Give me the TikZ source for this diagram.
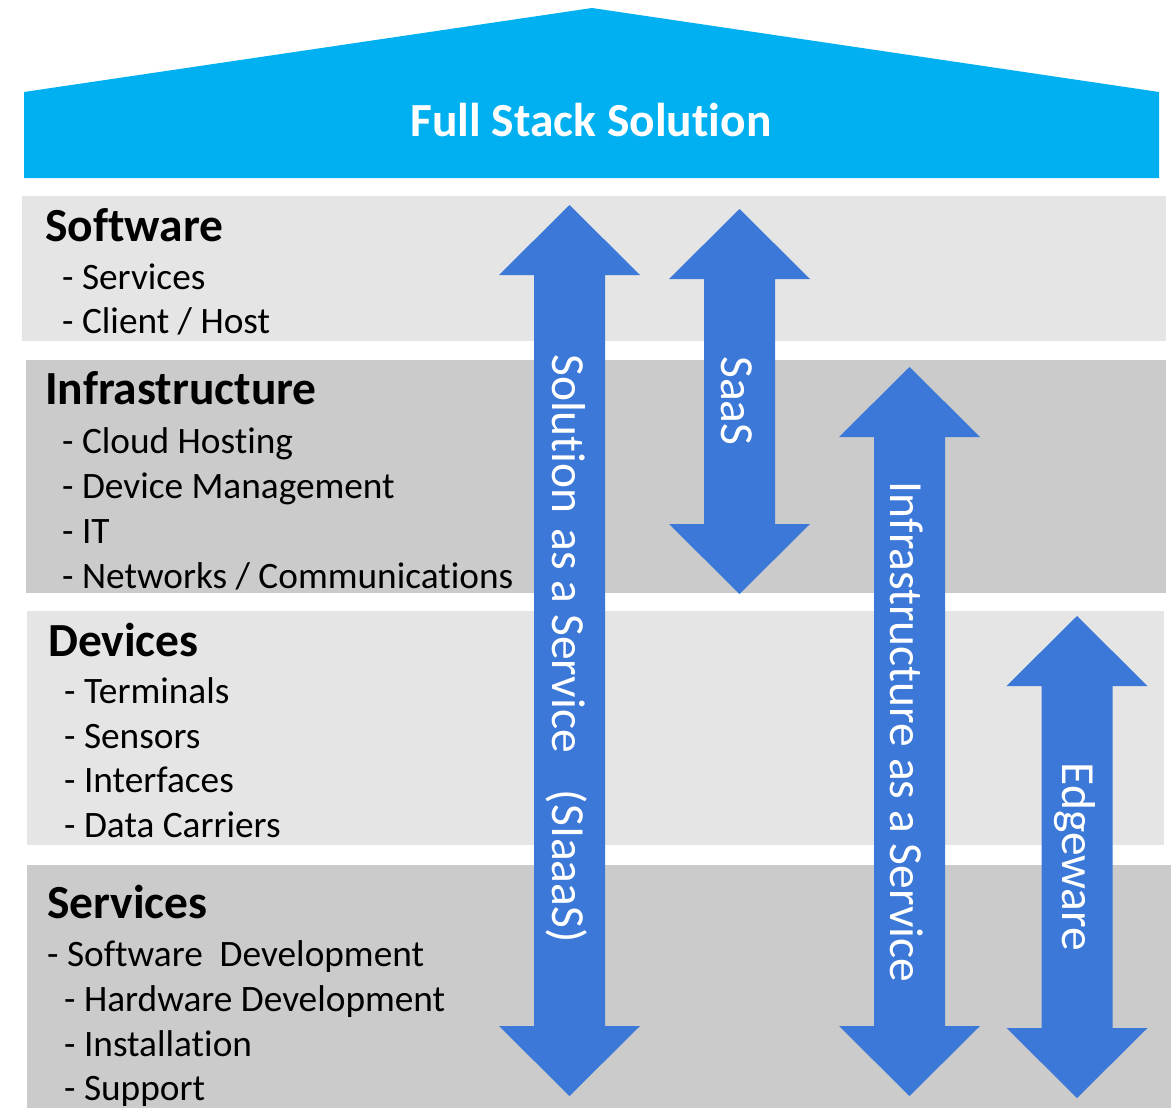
\documentclass[tikz,border=0pt]{standalone}
\usepackage{fontspec}
\setmainfont{Carlito}[Ligatures=NoCommon]
\definecolor{roofblue}{HTML}{00B0F0}
\definecolor{bandlight}{HTML}{E5E5E5}
\definecolor{banddark}{HTML}{CBCBCB}
\definecolor{arrowblue}{HTML}{3C78D8}
\newcommand\dblarr[4]{% cx, top tip, bottom tip, name
  \fill[arrowblue] (#1,#2) -- ++(70.5,70) -- ++(-35,0) -- (#1+35.5,#3-70) -- ++(35,0) -- (#1,#3)
    -- (#1-70.5,#3-70) -- ++(35,0) -- (#1-35.5,#2+70) -- ++(-35,0) -- cycle;
  \coordinate (#4) at (#1,{(#2+#3)/2});
}
\begin{document}
\begin{tikzpicture}[x=1pt,y=-1pt,
  header/.style={anchor=base west,inner sep=0pt,font=\fontsize{47.5}{50}\selectfont\bfseries},
  item/.style={anchor=base west,inner sep=0pt,font=\fontsize{37.3}{40}\selectfont},
  arrtext/.style={rotate=-90,inner sep=0pt,text=white,font=\fontsize{47.5}{50}\selectfont}]
\useasboundingbox (0,0) rectangle (1171,1108);
\fill[white] (0,0) rectangle (1171,1108);
% roof
\fill[roofblue] (24,178) -- (24,92) -- (592,8) -- (1159,92) -- (1159,178) -- cycle;
\node[inner sep=0pt,text=white,font=\fontsize{47.5}{50}\selectfont\bfseries] (title) at (591,120) {Full Stack Solution};
% bands
\fill[bandlight] (22,196) rectangle (1166,341);
\fill[banddark] (26,360) rectangle (1166,593);
\fill[bandlight] (27,611) rectangle (1164,845);
\fill[banddark] (27,865) rectangle (1171,1108);
% texts
\node[header] (sw) at (45,241) {Software};
\node[item] (sw1) at (62,289) {- Services};
\node[item] (sw2) at (62,333) {- Client / Host};
\node[header] (inf) at (45,404) {Infrastructure};
\node[item] (inf1) at (62,453) {- Cloud Hosting};
\node[item] (inf2) at (62,498) {- Device Management};
\node[item] (inf3) at (62,543) {- IT};
\node[item] (inf4) at (62,588) {- Networks / Communications};
\node[header] (dev) at (48,656) {Devices};
\node[item] (dev1) at (64,703) {- Terminals};
\node[item] (dev2) at (64,748) {- Sensors};
\node[item] (dev3) at (64,792) {- Interfaces};
\node[item] (dev4) at (64,837) {- Data Carriers};
\node[header] (srv) at (47,918) {Services};
\node[item] (srv1) at (47,966) {- Software\ \ Development};
\node[item] (srv2) at (64,1011) {- Hardware Development};
\node[item] (srv3) at (64,1056) {- Installation};
\node[item] (srv4) at (64,1100) {- Support};
% arrows
\dblarr{569.5}{205}{1096}{a1}
\dblarr{739.5}{209}{594}{a2}
\dblarr{909.5}{367}{1096}{a3}
\dblarr{1077}{616}{1098}{a4}
\node[arrtext] (t1) at (567,648.5) {Solution\hspace{0.32em}as a Service\hspace{0.78em}(SIaaaS)};
\node[arrtext] (t2) at (737,401) {SaaS};
\node[arrtext] (t3) at (907,732) {Infrastructure as a Service};
\node[arrtext] (t4) at (1075,857) {Edgeware};
\end{tikzpicture}
\end{document}
